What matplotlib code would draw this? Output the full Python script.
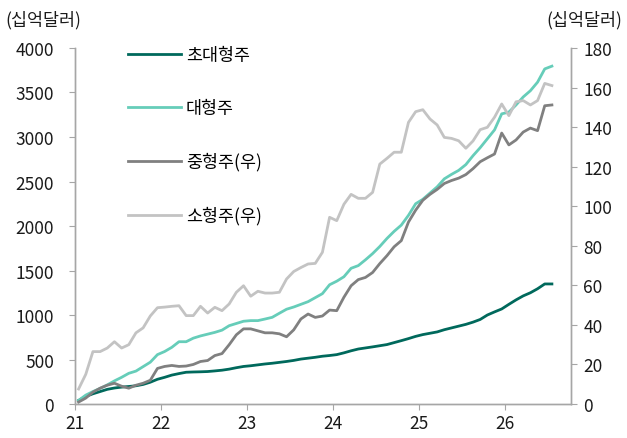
import matplotlib
matplotlib.use('Agg')
import matplotlib.pyplot as plt
import numpy as np

plt.rcParams['font.family'] = ['Noto Sans CJK KR', 'DejaVu Sans']

# monthly, Jan-21 .. Jul-26 (십억달러)
super_large = [40, 85, 115, 140, 165, 180, 190, 197, 205, 220, 245, 278,
               300, 325, 342, 357, 360, 362, 365, 372, 380, 392, 408, 422,
               430, 440, 450, 458, 468, 478, 490, 505, 515, 525, 537, 545,
               555, 575, 598, 618, 630, 642, 655, 668, 690, 712, 735, 760,
               780, 795, 810, 835, 855, 875, 895, 920, 950, 1000, 1035, 1068,
               1120, 1170, 1215, 1250, 1295, 1349, 1349]
large = [40, 100, 140, 175, 215, 260, 300, 345, 370, 420, 470, 555,
         590, 637, 700, 700, 740, 765, 785, 805, 830, 880, 905, 930,
         937, 937, 955, 974, 1020, 1065, 1090, 1120, 1150, 1195, 1240, 1340,
         1380, 1430, 1525, 1555, 1620, 1690, 1770, 1860, 1940, 2010, 2120, 2250,
         2300, 2370, 2440, 2530, 2580, 2625, 2690, 2790, 2880, 2980, 3080, 3260,
         3280, 3360, 3450, 3520, 3616, 3765, 3796]
mid = [1, 3, 6, 8, 9.5, 10.5, 9, 8, 9.5, 10.5, 12, 18,
       19, 19.5, 19, 19.2, 20, 21.5, 22, 24.5, 25.5, 30, 35, 38,
       38, 37, 36, 36, 35.5, 34, 37.5, 43, 45.5, 43.8, 44.5, 47.5,
       47.2, 54, 59.8, 62.9, 64, 66.5, 71, 75, 79.5, 82.6, 92, 98,
       103, 106, 108.5, 111.5, 113, 114.2, 116, 119, 122.5, 124.5, 126.4, 137,
       131, 133.5, 137.5, 139.5, 138.2, 150.8, 151.2]
small = [7.6, 15, 26.5, 26.5, 28.3, 31.5, 28.3, 30, 36, 38.5, 44.5, 48.7,
         49, 49.4, 49.7, 44.7, 44.7, 49.4, 46, 48.9, 47.2, 50.6, 56.5, 59.8,
         54.5, 57, 56.1, 56.1, 56.5, 63.2, 67, 69, 70.8, 71.1, 76.7, 94.4,
         92.7, 101, 106, 104, 104, 107, 121.3, 124.2, 127.3, 127.3, 142.4, 147.8,
         148.8, 144.1, 141.1, 134.8, 134.3, 133.1, 129.3, 133, 138.7, 139.9, 145, 151.7,
         145.8, 152.8, 153.4, 151.2, 153.4, 162.1, 161]

year_ticks = [21, 22, 23, 24, 25, 26]
year_labels = ['21', '22', '23', '24', '25', '26']
left_ticks = [0, 500, 1000, 1500, 2000, 2500, 3000, 3500, 4000]
right_ticks = [0, 20, 40, 60, 80, 100, 120, 140, 160, 180]

x = 21 + (np.arange(len(super_large)) + 0.5) / 12

fig = plt.figure(figsize=(6.27, 4.39), dpi=100)
ax = fig.add_axes([0.1196, 0.0774, 0.7906, 0.8110])
ax2 = ax.twinx()

spine_c = '#a6a6a6'
l1, = ax.plot(x, super_large, color='#00695c', lw=2.0, label='초대형주')
l2, = ax.plot(x, large, color='#66cdb9', lw=2.0, label='대형주')
l3, = ax2.plot(x, mid, color='#808080', lw=2.0, label='중형주(우)')
l4, = ax2.plot(x, small, color='#c3c3c3', lw=2.0, label='소형주(우)')

ax.set_xlim(21, 26.76)
ax.set_ylim(0, 4000)
ax2.set_ylim(0, 180)
ax.set_xticks(year_ticks)
ax.set_xticklabels(year_labels)
ax.set_yticks(left_ticks)
ax2.set_yticks(right_ticks)

for a in (ax, ax2):
    a.spines['top'].set_visible(False)
    for s in ('left', 'right', 'bottom'):
        a.spines[s].set_color(spine_c)
        a.spines[s].set_linewidth(1.0)
    a.tick_params(colors=spine_c, labelcolor='#1a1a1a', labelsize=12.5,
                  length=4, direction='out')
ax.tick_params(axis='x', pad=3)
ax.tick_params(axis='y', pad=11)
ax2.tick_params(axis='y', pad=5)

fig.text(0.008, 0.955, '(십억달러)', fontsize=12.5, color='#1a1a1a', va='center')
fig.text(0.992, 0.955, '(십억달러)', fontsize=12.5, color='#1a1a1a', va='center', ha='right')

ax.legend(handles=[l1, l2, l3, l4], loc='upper left',
          bbox_to_anchor=(0.075, 1.05), frameon=False, fontsize=12.5,
          handlelength=3.05, handletextpad=0.3, labelspacing=2.03)

fig.savefig('out.png', dpi=100)
